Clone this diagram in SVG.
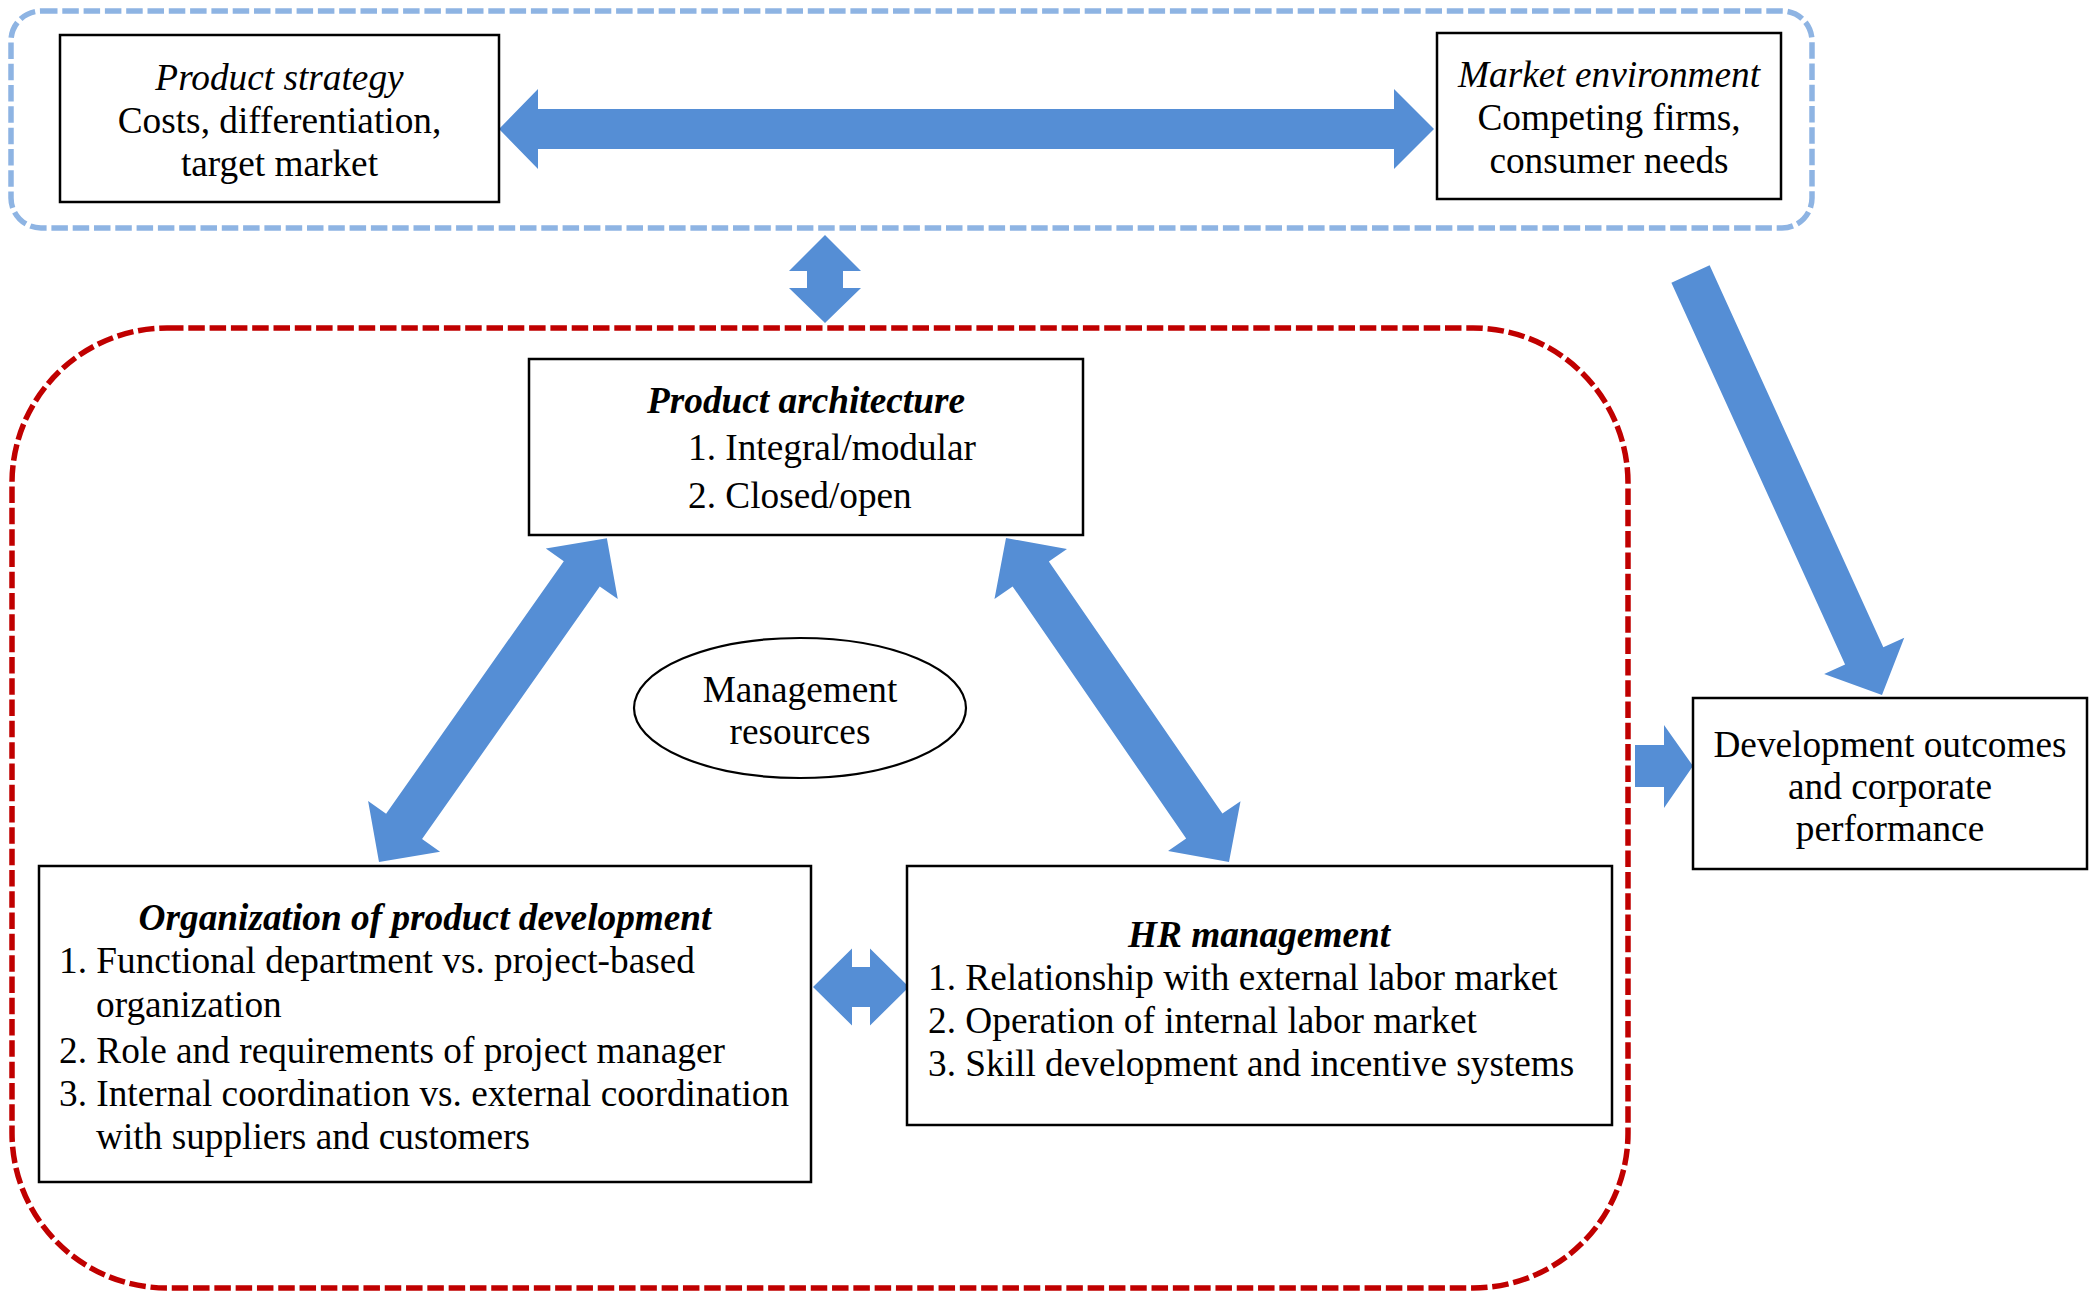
<svg xmlns="http://www.w3.org/2000/svg" width="2096" height="1291" viewBox="0 0 2096 1291">
<style>
text{font-family:"Liberation Serif","Times New Roman",serif;font-size:37.3px;fill:#000}
.c{text-anchor:middle}
.i{font-style:italic}
.bi{font-style:italic;font-weight:bold}
.box{fill:#fff;stroke:#000;stroke-width:2.5}
.arr{fill:#558ED5;stroke:none}
.grpB{fill:none;stroke:#8EB4E3;stroke-width:5.5;stroke-dasharray:16.5 4.8}
.grpR{fill:none;stroke:#C00000;stroke-width:5.5;stroke-dasharray:16.5 4.8}
</style>
<rect width="2096" height="1291" fill="#fff"/>
<g id="groups">
<rect class="grpB" x="11" y="11" width="1801" height="217" rx="30" ry="30"/>
<rect class="grpR" x="12" y="328" width="1616" height="960" rx="155" ry="155"/>
</g>
<g id="connectors">
<polygon class="arr" points="499,129 538,89 538,109 1394,109 1394,89 1434,129 1394,169 1394,149 538,149 538,169"/>
<polygon class="arr" points="825,235 861,271 843,271 843,288 861,288 825,323 789,288 807,288 807,271 789,271"/>
<polygon class="arr" transform="translate(379,862) rotate(-54.87)" points="0,0 43.6,-44 43.6,-22 352.4,-22 352.4,-44 396,0 352.4,44 352.4,22 43.6,22 43.6,44"/>
<polygon class="arr" transform="translate(1229,862) rotate(-124.54)" points="0,0 43.6,-44 43.6,-22 349.7,-22 349.7,-44 393.3,0 349.7,44 349.7,22 43.6,22 43.6,44"/>
<polygon class="arr" transform="translate(1690.5,274) rotate(65.54)" points="0,-21 419.5,-21 419.5,-44 462.5,0 419.5,44 419.5,21 0,21"/>
<polygon class="arr" points="1635,745 1664,745 1664,725 1693,766 1664,808 1664,787 1635,787"/>
<polygon class="arr" points="813,987 852,948.5 852,967 870,967 870,948.5 909,987 870,1025.5 870,1007 852,1007 852,1025.5"/>
</g>
<g id="product-strategy">
<rect class="box" x="60" y="35" width="439" height="167"/>
<text class="c i" x="279.5" y="90">Product strategy</text>
<text class="c" x="279.5" y="133">Costs, differentiation,</text>
<text class="c" x="279.5" y="176">target market</text>
</g>
<g id="market-environment">
<rect class="box" x="1437" y="33" width="344" height="166"/>
<text class="c i" x="1609" y="87">Market environment</text>
<text class="c" x="1609" y="130">Competing firms,</text>
<text class="c" x="1609" y="173">consumer needs</text>
</g>
<g id="product-architecture">
<rect class="box" x="529" y="359" width="554" height="176"/>
<text class="c bi" x="806" y="413">Product architecture</text>
<text x="688" y="460">1. Integral/modular</text>
<text x="688" y="508">2. Closed/open</text>
</g>
<g id="management-resources">
<ellipse cx="800" cy="708" rx="166" ry="70" fill="#fff" stroke="#000" stroke-width="2.2"/>
<text class="c" x="800" y="702">Management</text>
<text class="c" x="800" y="744">resources</text>
</g>
<g id="organization">
<rect class="box" x="39" y="866" width="772" height="316"/>
<text class="c bi" x="425" y="930">Organization of product development</text>
<text x="59" y="973">1. Functional department vs. project-based</text>
<text x="96" y="1017">organization</text>
<text x="59" y="1063">2. Role and requirements of project manager</text>
<text x="59" y="1106">3. Internal coordination vs. external coordination</text>
<text x="96" y="1149">with suppliers and customers</text>
</g>
<g id="hr-management">
<rect class="box" x="907" y="866" width="705" height="259"/>
<text class="c bi" x="1259" y="947">HR management</text>
<text x="928" y="990">1. Relationship with external labor market</text>
<text x="928" y="1033">2. Operation of internal labor market</text>
<text x="928" y="1076">3. Skill development and incentive systems</text>
</g>
<g id="development-outcomes">
<rect class="box" x="1693" y="698" width="394" height="171"/>
<text class="c" x="1890" y="757">Development outcomes</text>
<text class="c" x="1890" y="799">and corporate</text>
<text class="c" x="1890" y="841">performance</text>
</g>
</svg>
